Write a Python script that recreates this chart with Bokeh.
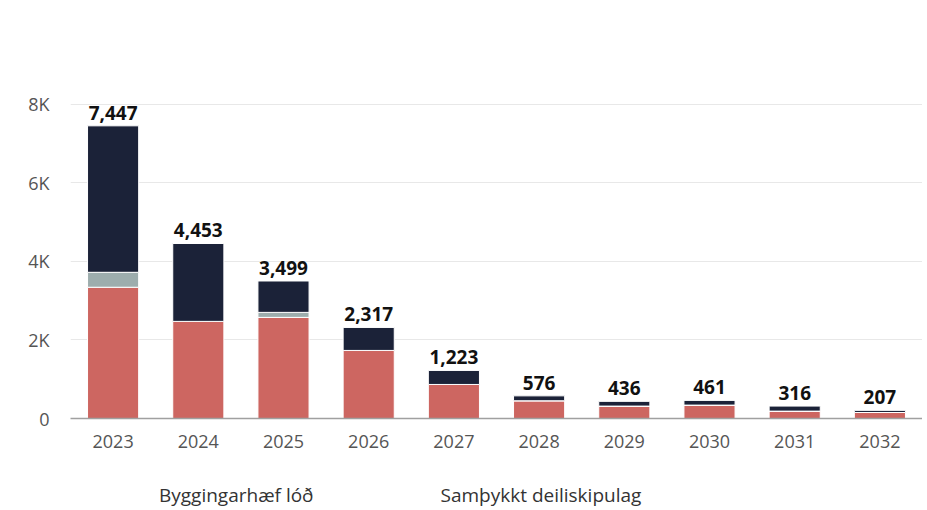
from bokeh.plotting import figure
from bokeh.models import ColumnDataSource, Legend, LegendItem, FactorRange
from bokeh.layouts import column
from bokeh.core.properties import value
from bokeh.embed import file_html
from bokeh.resources import INLINE

years = ["2023", "2024", "2025", "2026", "2027", "2028", "2029", "2030", "2031", "2032"]
samthykkt = [3340, 2471, 2573, 1732, 866, 451, 316, 341, 188, 153]
annad = [380, 0, 127, 0, 0, 0, 0, 0, 0, 0]
byggingarhaef = [3727, 1982, 799, 585, 357, 125, 120, 120, 128, 54]
totals = [7447, 4453, 3499, 2317, 1223, 576, 436, 461, 316, 207]
y_ticks = [0, 2000, 4000, 6000, 8000, 10000]
y_tick_labels = ["0", "2K", "4K", "6K", "8K", ""]
legend_labels = ["Byggingarhæf lóð", "Samþykkt deiliskipulag"]

FONT = "Open Sans"
RED = "#cd6661"
GRAY = "#9dadad"
NAVY = "#1b2238"

src = ColumnDataSource(dict(
    year=years,
    samthykkt=samthykkt,
    annad=annad,
    byggingarhaef=byggingarhaef,
    total=totals,
    total_label=[f"{t:,}" for t in totals],
))

p = figure(
    x_range=FactorRange(*years, range_padding=0),
    y_range=(0, 10000),
    frame_width=852, frame_height=393,
    output_backend="svg", toolbar_location=None,
    min_border_left=70, min_border_right=0, min_border_top=25, min_border_bottom=50,
)
p.outline_line_color = None

r = p.vbar_stack(["samthykkt", "annad", "byggingarhaef"], x="year", width=0.6,
                 source=src, color=[RED, GRAY, NAVY], line_color="white", line_width=1)

p.text(x="year", y="total", text="total_label", source=src,
       text_font=value(FONT), text_font_size="19px", text_font_style="bold",
       text_color="#111111", text_align="center", text_baseline="bottom", y_offset=-6)

p.yaxis.ticker = y_ticks
p.yaxis.major_label_overrides = {t: l for t, l in zip(y_ticks, y_tick_labels)}
p.yaxis.axis_line_color = None
p.yaxis.major_tick_line_color = None
p.yaxis.minor_tick_line_color = None
p.yaxis.major_label_text_font = FONT
p.yaxis.major_label_text_font_size = "18px"
p.yaxis.major_label_text_color = "#555555"
p.yaxis.major_label_standoff = 15

p.xaxis.axis_line_color = "#a0a0a0"
p.xaxis.axis_line_width = 1.5
p.xaxis.major_tick_line_color = None
p.xaxis.minor_tick_line_color = None
p.xaxis.major_label_text_font = FONT
p.xaxis.major_label_text_font_size = "18px"
p.xaxis.major_label_text_color = "#555555"
p.xaxis.major_label_standoff = 10

p.xgrid.grid_line_color = None
p.ygrid.grid_line_color = "#e8e8e8"
p.ygrid.grid_line_width = 1

# legend strip below the chart
lg = figure(width=922, height=42, output_backend="svg", toolbar_location=None,
            x_axis_location=None, y_axis_location=None,
            min_border_left=0, min_border_right=0, min_border_top=0, min_border_bottom=0,
            x_range=(0, 1), y_range=(0, 1))
lg.outline_line_color = None
lg.grid.grid_line_color = None
sw_navy = lg.vbar(x=[], top=[], width=0.5, fill_color=NAVY, line_color=None)
sw_red = lg.vbar(x=[], top=[], width=0.5, fill_color=RED, line_color=None)

legend = Legend(
    items=[LegendItem(label=legend_labels[0], renderers=[sw_navy]),
           LegendItem(label=legend_labels[1], renderers=[sw_red])],
    orientation="horizontal",
    location=(60, 2),
    label_text_font=FONT, label_text_font_size="19px", label_text_color="#333333",
    glyph_width=16, glyph_height=16, label_height=16, label_standoff=13, spacing=98,
    border_line_color=None, background_fill_alpha=0, padding=0, margin=0,
)
lg.add_layout(legend, "center")

layout = column(p, lg, spacing=0)
open("out.html", "w").write(file_html(layout, INLINE))
